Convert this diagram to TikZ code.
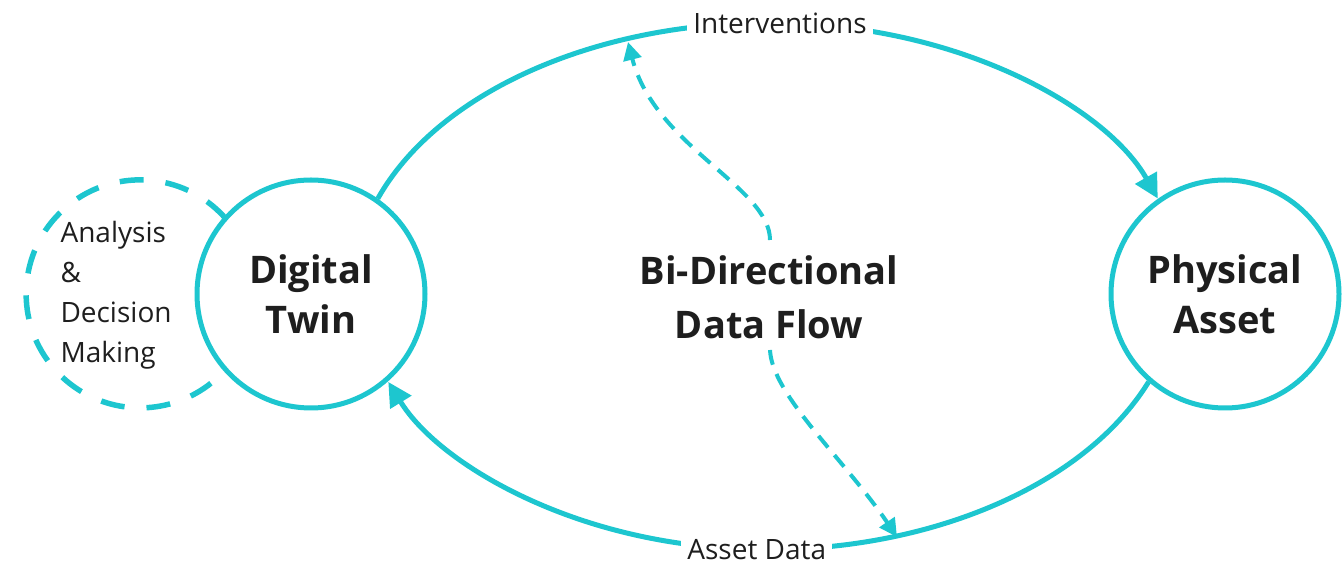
\documentclass[tikz,border=0pt]{standalone}
\usepackage{fontspec}
\setmainfont{Open Sans}
\usepackage{xcolor}
\usepackage{tikz}
\usetikzlibrary{arrows.meta}
\usetikzlibrary{calc}
\definecolor{twincyan}{RGB}{29,198,207}
\definecolor{txtgray}{RGB}{30,30,30}

\begin{document}
\begin{tikzpicture}[x=1pt,y=1pt,
  bubble/.style={circle,draw=twincyan,line width=5pt,fill=white,minimum size=228pt,inner sep=0pt,align=center,text=txtgray,font=\fontsize{38}{50}\selectfont\bfseries},
  flow/.style={color=twincyan,line width=5pt},
  dataflow/.style={color=twincyan,line width=4pt,dash pattern=on 15pt off 10pt},
  arclabel/.style={fill=white,inner sep=6pt,text=txtgray,font=\fontsize{28}{30}\selectfont}]
\useasboundingbox (0,0) rectangle (1344,567);
\node (adm) [circle,minimum size=228pt,inner sep=0pt] at (140,273) {};
\draw [color=twincyan,line width=5.5pt,dash pattern=on 24pt off 22pt] (adm.42) arc[start angle=42,end angle=318,radius=114];
\node (adtext) [anchor=west,align=left,text=txtgray,font=\fontsize{28}{40}\selectfont] at (57,272) {Analysis\\\&\\Decision\\Making};
\node (dt) [bubble] at (311,273) {Digital\\Twin};
\node (pa) [bubble] at (1225,273) {Physical\\Asset};
\node (bdf) [text=txtgray,align=center,font=\fontsize{38}{54}\selectfont\bfseries] at (769,270) {Bi-Directional\\Data Flow};
\draw [flow,-{Triangle[length=24pt,width=24pt]}] (dt.55) arc[start angle=160,end angle=20,x radius=415,y radius=267] node [arclabel,pos=0.512] (iv) {Interventions};
\draw [flow,-{Triangle[length=24pt,width=24pt]}] (pa.229) arc[start angle=-22,end angle=-158,x radius=410,y radius=268] node [arclabel,pos=0.512] (adata) {Asset Data};
\coordinate (upstart) at (770,327);
\coordinate (upend) at (628,525);
\coordinate (downstart) at (770,217);
\coordinate (downend) at (897,30);
\draw [dataflow,-{Triangle[length=18pt,width=18pt]}] (upstart) .. controls (770,380) and (655,420) .. (upend);
\draw [dataflow,-{Triangle[length=18pt,width=18pt]}] (downstart) .. controls (772,172) and (845,107) .. (downend);
\end{tikzpicture}
\end{document}
